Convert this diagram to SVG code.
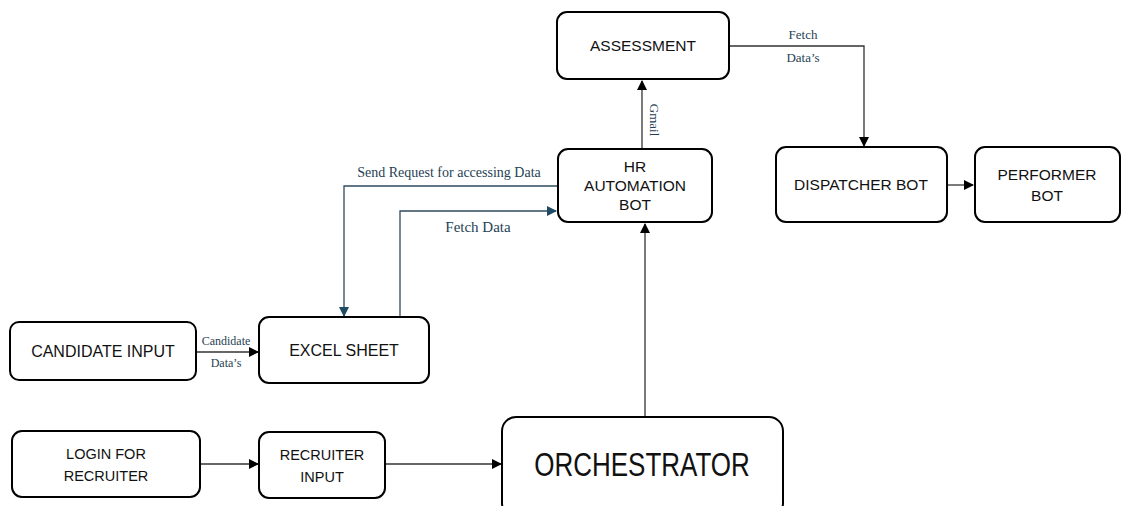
<svg xmlns="http://www.w3.org/2000/svg" width="1136" height="506" viewBox="0 0 1136 506">
<style>
.box{fill:#fff;stroke:#000;stroke-width:2}
.t{font-family:"Liberation Sans",Arial,sans-serif;font-size:15.5px;fill:#111;text-anchor:middle}
.lbl{font-family:"Liberation Serif","Times New Roman",serif;font-size:13px;fill:#1f3f55;text-anchor:middle}
.c{fill:none;stroke:#333;stroke-width:1.3}
.ct{fill:none;stroke:#2f4b5e;stroke-width:1.3}
</style>
<defs>
<marker id="ah" markerWidth="10" markerHeight="10" refX="9" refY="5" orient="auto" markerUnits="userSpaceOnUse">
<path d="M0,0 L10,5 L0,10 z" fill="#000"/>
</marker>
<marker id="aht" markerWidth="10" markerHeight="10" refX="9" refY="5" orient="auto" markerUnits="userSpaceOnUse">
<path d="M0,0 L10,5 L0,10 z" fill="#1f4a63"/>
</marker>
</defs>
<rect width="1136" height="506" fill="#fff"/>
<g id="connectors">
<path class="c" d="M642,148 V81" marker-end="url(#ah)"/>
<path class="c" d="M729,46 H864 V146" marker-end="url(#ah)"/>
<path class="c" d="M947,185 H973" marker-end="url(#ah)"/>
<path class="ct" d="M557,186 H344 V316" marker-end="url(#aht)"/>
<path class="ct" d="M400,317 V211 H556" marker-end="url(#aht)"/>
<path class="c" d="M196,352 H258" marker-end="url(#ah)"/>
<path class="c" d="M200,464 H258" marker-end="url(#ah)"/>
<path class="c" d="M385,464 H501" marker-end="url(#ah)"/>
<path class="c" d="M645,417 V224" marker-end="url(#ah)"/>
<text class="lbl" x="803" y="39">Fetch</text>
<text class="lbl" x="803" y="62">Data’s</text>
<text class="lbl" transform="translate(650,120) rotate(90)">Gmail</text>
<text class="lbl" x="449" y="177" style="font-size:14px">Send Request for accessing Data</text>
<text class="lbl" x="478" y="232" style="font-size:15px">Fetch Data</text>
<text class="lbl" x="226" y="345" style="font-size:12px">Candidate</text>
<text class="lbl" x="226" y="367" style="font-size:12px">Data’s</text>
</g>
<g id="assessment"><rect class="box" x="557" y="12" width="172" height="67" rx="10"/><text class="t" x="643" y="51">ASSESSMENT</text></g>
<g id="hr-bot"><rect class="box" x="558" y="149" width="154" height="73" rx="10"/><text class="t" x="635" y="172">HR</text><text class="t" x="635" y="191">AUTOMATION</text><text class="t" x="635" y="210">BOT</text></g>
<g id="dispatcher"><rect class="box" x="776" y="147" width="171" height="75" rx="10"/><text class="t" x="861" y="190">DISPATCHER BOT</text></g>
<g id="performer"><rect class="box" x="975" y="147" width="145" height="75" rx="10"/><text class="t" x="1047" y="180">PERFORMER</text><text class="t" x="1047" y="201">BOT</text></g>
<g id="candidate"><rect class="box" x="10" y="322" width="186" height="58" rx="9"/><text class="t" x="103" y="357" style="font-size:16px">CANDIDATE INPUT</text></g>
<g id="excel"><rect class="box" x="259" y="317" width="170" height="66" rx="10"/><text class="t" x="344" y="356" style="font-size:16px">EXCEL SHEET</text></g>
<g id="login"><rect class="box" x="12" y="431" width="188" height="66" rx="10"/><text class="t" x="106" y="459" style="font-size:14.5px">LOGIN FOR</text><text class="t" x="106" y="481" style="font-size:14.5px">RECRUITER</text></g>
<g id="recruiter"><rect class="box" x="259" y="432" width="126" height="66" rx="10"/><text class="t" x="322" y="460" style="font-size:14.5px">RECRUITER</text><text class="t" x="322" y="482" style="font-size:14.5px">INPUT</text></g>
<g id="orchestrator"><rect class="box" x="502" y="417" width="281" height="100" rx="14"/><text class="t" style="font-size:26px" transform="translate(642,476) scale(1,1.3)">ORCHESTRATOR</text></g>
</svg>
